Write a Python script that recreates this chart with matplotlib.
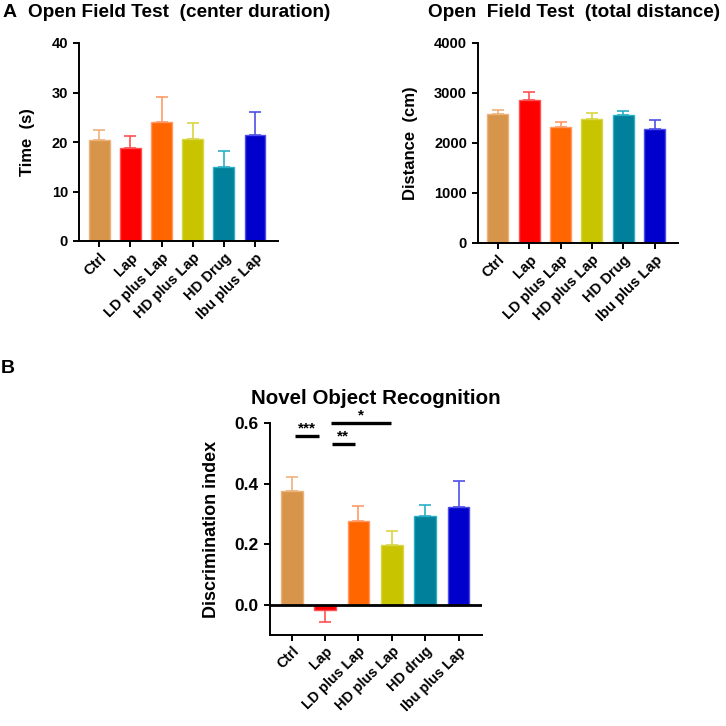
import numpy as np
import matplotlib
matplotlib.use("Agg")
import matplotlib.pyplot as plt

plt.rcParams["font.family"] = ["Liberation Sans", "DejaVu Sans"]
plt.rcParams["font.weight"] = "bold"

# ----------------------------
# data
# ----------------------------
groups_a = ["Ctrl", "Lap", "LD plus Lap", "HD plus Lap", "HD Drug", "Ibu plus Lap"]
groups_b = ["Ctrl", "Lap", "LD plus Lap", "HD plus Lap", "HD drug", "Ibu plus Lap"]

center_time = [20.4, 18.8, 24.0, 20.6, 15.0, 21.5]
center_time_err = [2.1, 2.5, 5.0, 3.3, 3.1, 4.5]

total_distance = [2590, 2870, 2330, 2480, 2560, 2280]
total_distance_err = [80, 160, 90, 120, 90, 180]

disc_index = [0.375, -0.017, 0.278, 0.198, 0.293, 0.322]
disc_index_err = [0.048, 0.041, 0.048, 0.047, 0.037, 0.085]

# significance brackets: (x_start, x_end, y, label)
sig_x0 = [0.09, 1.17, 1.2]
sig_x1 = [0.81, 2.97, 1.89]
sig_y = [0.557, 0.60, 0.53]
sig_labels = ["***", "*", "**"]

bar_colors = ["#D6954B", "#FF0000", "#FF6600", "#C8C400", "#00809A", "#0000CC"]
light_colors = ["#EDB27A", "#FF5050", "#FF9966", "#D9D548", "#2AAFC6", "#4F4FE6"]

W = 726.0


def px_axes(fig, left, top, right, bottom):
    return fig.add_axes([left / W, 1 - bottom / W, (right - left) / W, (bottom - top) / W])


def style_axes(ax, tick_size):
    for side in ["top", "right"]:
        ax.spines[side].set_visible(False)
    for side in ["left", "bottom"]:
        ax.spines[side].set_linewidth(1.4)
    ax.tick_params(axis="both", width=1.4, length=4.5, labelsize=tick_size)
    ax.tick_params(axis="x", pad=2.5)
    for lab in ax.get_yticklabels():
        lab.set_fontweight("bold")


def draw_bars(ax, labels, values, errors, width, label_size):
    x = np.arange(len(values))
    ax.bar(x, values, width=width, color=bar_colors, edgecolor=light_colors, linewidth=1.0, zorder=2)
    for i in range(len(values)):
        if values[i] < 0:
            lo, hi = [errors[i]], [0]
        else:
            lo, hi = [0], [errors[i]]
        ax.errorbar(x[i], values[i], yerr=[lo, hi], fmt="none", ecolor=light_colors[i],
                    elinewidth=1.2, capsize=4.5, capthick=1.2, zorder=1)
    ax.set_xticks(x)
    ax.set_xticklabels(labels, rotation=45, ha="right", rotation_mode="anchor",
                       fontsize=label_size, fontweight="bold")
    return x


fig = plt.figure(figsize=(7.26, 7.26), dpi=100)

# ----------------------------
# A: center duration
# ----------------------------
ax1 = px_axes(fig, 79, 43, 278, 241)
draw_bars(ax1, groups_a, center_time, center_time_err, 0.67, 10.5)
ax1.set_xlim(-0.65, 5.74)
ax1.set_ylim(0, 40)
ax1.set_yticks([0, 10, 20, 30, 40])
style_axes(ax1, 10.5)
ax1.set_ylabel("Time  (s)", fontsize=12, fontweight="bold")
ax1.yaxis.set_label_coords(-0.22, 0.5)

# ----------------------------
# A: total distance
# ----------------------------
ax2 = px_axes(fig, 478, 43, 678, 243)
draw_bars(ax2, groups_a, total_distance, total_distance_err, 0.67, 10.5)
ax2.set_xlim(-0.63, 5.74)
ax2.set_ylim(0, 4000)
ax2.set_yticks([0, 1000, 2000, 3000, 4000])
style_axes(ax2, 10.5)
ax2.set_ylabel("Distance  (cm)", fontsize=12, fontweight="bold")
ax2.yaxis.set_label_coords(-0.30, 0.5)

# ----------------------------
# B: novel object recognition
# ----------------------------
ax3 = px_axes(fig, 270, 423, 482, 635)
draw_bars(ax3, groups_b, disc_index, disc_index_err, 0.65, 10.3)
ax3.set_xlim(-0.65, 5.7)
ax3.set_ylim(-0.1, 0.6)
ax3.set_yticks([0.0, 0.2, 0.4, 0.6])
ax3.set_yticklabels(["0.0", "0.2", "0.4", "0.6"])
style_axes(ax3, 12.5)
ax3.tick_params(axis="x", labelsize=10.3, pad=2)
ax3.axhline(0, color="black", linewidth=2.0, zorder=3)
ax3.set_ylabel("Discrimination index", fontsize=13, fontweight="bold")
ax3.yaxis.set_label_coords(-0.236, 0.5)

for x0, x1, y, lab in zip(sig_x0, sig_x1, sig_y, sig_labels):
    ax3.plot([x0, x1], [y, y], color="black", linewidth=2.4, solid_capstyle="butt", clip_on=False)
    ax3.text((x0 + x1) / 2, y + 0.002, lab, ha="center", va="bottom", fontsize=11, clip_on=False)

# titles and panel letters
fig.text(3 / W, 1 - 17 / W, "A", fontsize=14, fontweight="bold", va="baseline")
fig.text(28 / W, 1 - 17 / W, "Open Field Test  (center duration)", fontsize=13.7,
         fontweight="bold", va="baseline")
fig.text(428 / W, 1 - 17 / W, "Open  Field Test  (total distance)", fontsize=13.7,
         fontweight="bold", va="baseline")
fig.text(1 / W, 1 - 373 / W, "B", fontsize=14, fontweight="bold", va="baseline")
fig.text(376 / W, 1 - 404 / W, "Novel Object Recognition", fontsize=14.8,
         fontweight="bold", ha="center", va="baseline")

fig.savefig("out.png", dpi=100)
